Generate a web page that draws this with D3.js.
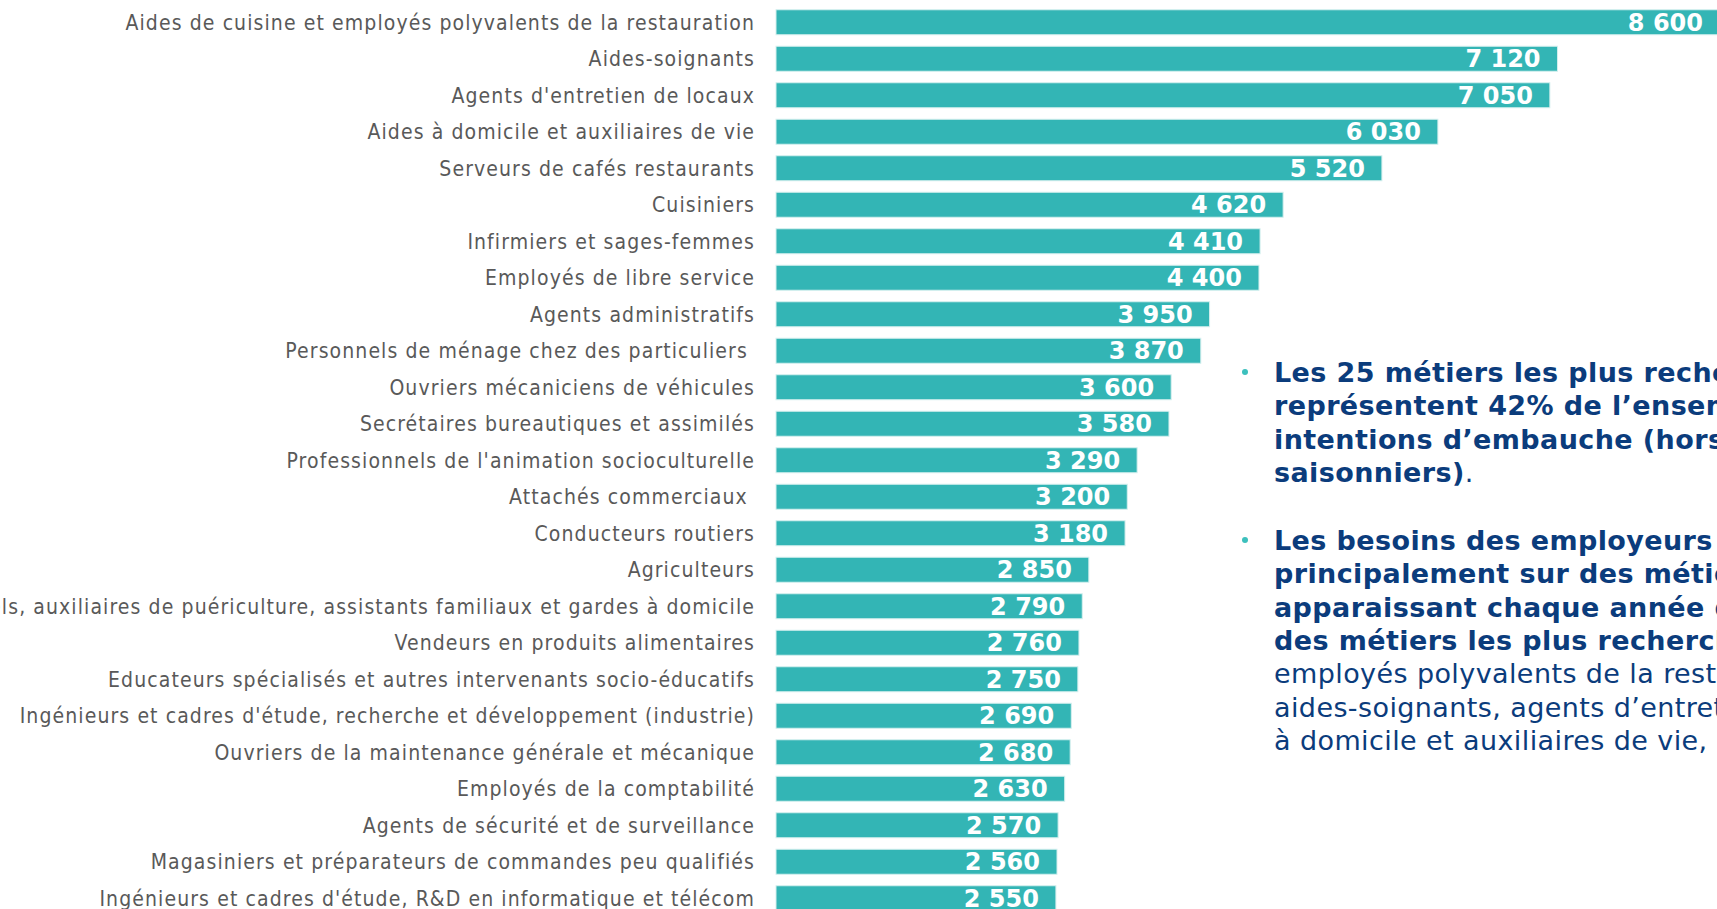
<!DOCTYPE html>
<html>
  <head>
    <meta charset="utf-8">
    <title>Métiers les plus recherchés</title>
    <script src="https://d3js.org/d3.v7.min.js"></script>
    <style>
      body { margin: 0; background: #fff; overflow: hidden; }
      svg { display: block; }
    </style>
  </head>
  <body>
    <svg width="1717" height="909"></svg>

    <script>
      // ====================================
      // Données : intentions d'embauche par métier
      // ====================================
      const metiers = [
        "Aides de cuisine et employés polyvalents de la restauration",
        "Aides-soignants",
        "Agents d'entretien de locaux",
        "Aides à domicile et auxiliaires de vie",
        "Serveurs de cafés restaurants",
        "Cuisiniers",
        "Infirmiers et sages-femmes",
        "Employés de libre service",
        "Agents administratifs",
        "Personnels de ménage chez des particuliers ",
        "Ouvriers mécaniciens de véhicules",
        "Secrétaires bureautiques et assimilés",
        "Professionnels de l'animation socioculturelle",
        "Attachés commerciaux ",
        "Conducteurs routiers",
        "Agriculteurs",
        "Assistants maternels, auxiliaires de puériculture, assistants familiaux et gardes à domicile",
        "Vendeurs en produits alimentaires",
        "Educateurs spécialisés et autres intervenants socio-éducatifs",
        "Ingénieurs et cadres d'étude, recherche et développement (industrie)",
        "Ouvriers de la maintenance générale et mécanique",
        "Employés de la comptabilité",
        "Agents de sécurité et de surveillance",
        "Magasiniers et préparateurs de commandes peu qualifiés",
        "Ingénieurs et cadres d'étude, R&D en informatique et télécom"
      ];

      const embauches = [8600, 7120, 7050, 6030, 5520, 4620, 4410, 4400, 3950, 3870,
                         3600, 3580, 3290, 3200, 3180, 2850, 2790, 2760, 2750, 2690,
                         2680, 2630, 2570, 2560, 2550];

      // texte de commentaire : [morceau, gras ?] par ligne
      const para1 = [
        [["Les 25 métiers les plus recherchés", true]],
        [["représentent 42% de l’ensemble des", true]],
        [["intentions d’embauche (hors", true]],
        [["saisonniers)", true], [".", false]]
      ];
      const para2 = [
        [["Les besoins des employeurs portent", true]],
        [["principalement sur des métiers", true]],
        [["apparaissant chaque année dans la liste", true]],
        [["des métiers les plus recherchés", true], [" : aides de cuisine et", false]],
        [["employés polyvalents de la restauration,", false]],
        [["aides-soignants, agents d’entretien, aides", false]],
        [["à domicile et auxiliaires de vie, …", false]]
      ];

      const teal = "#33b5b5";
      const navy = "#0b3c7c";

      const svg = d3.select("svg");
      const left = 776;

      const fr = d3.formatLocale({ decimal: ",", thousands: " ", grouping: [3], currency: ["", " €"] });
      const fmt = fr.format(",d");

      const x = d3.scaleLinear()
        .domain([0, 8600])
        .range([0, 944]);

      const y = d3.scaleBand()
        .domain(metiers)
        .range([4, 4 + metiers.length * 36.5])
        .paddingInner(0.315)
        .paddingOuter(0.1575);

      const rows = svg.append("g")
        .selectAll("g")
        .data(metiers.map((m, i) => ({ m: m, v: embauches[i] })))
        .enter()
        .append("g")
          .attr("transform", d => `translate(0,${y(d.m)})`);

      rows.append("rect")
        .attr("x", left)
        .attr("width", d => x(d.v))
        .attr("height", y.bandwidth())
        .attr("fill", teal)
        .attr("stroke", "#d5efee")
        .attr("stroke-width", 1);

      rows.append("text")
        .attr("x", d => left + x(d.v) - 17)
        .attr("y", y.bandwidth() / 2)
        .attr("dy", "0.36em")
        .attr("text-anchor", "end")
        .attr("fill", "#fff")
        .style("font", "bold 24px 'DejaVu Sans', Verdana, sans-serif")
        .text(d => fmt(d.v));

      rows.append("text")
        .attr("x", left - 21)
        .attr("y", y.bandwidth() / 2)
        .attr("dy", "0.35em")
        .attr("text-anchor", "end")
        .attr("fill", "#595959")
        .style("font", "21px 'DejaVu Sans Condensed', Tahoma, sans-serif")
        .style("letter-spacing", "1.1px")
        .style("white-space", "pre")
        .text(d => d.m);

      // ==================
      // Commentaire à droite
      // ==================
      function paragraphe(lines, y0) {
        svg.append("circle")
          .attr("cx", 1245)
          .attr("cy", y0 - 10)
          .attr("r", 3)
          .attr("fill", "#3cc0bd");
        const t = svg.append("text")
          .attr("fill", navy)
          .style("font-family", "'DejaVu Sans', Verdana, sans-serif")
          .style("font-size", "27px")
          .style("letter-spacing", "0.4px");
        lines.forEach((parts, i) => {
          parts.forEach((p, j) => {
            const s = t.append("tspan")
              .style("font-weight", p[1] ? "bold" : "normal")
              .style("white-space", "pre")
              .text(p[0]);
            if (j === 0) s.attr("x", 1274).attr("y", y0 + i * 33.3);
          });
        });
      }

      paragraphe(para1, 382);
      paragraphe(para2, 550);
    </script>
  </body>
</html>
